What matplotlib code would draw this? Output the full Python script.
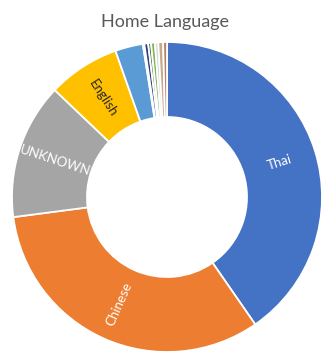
import matplotlib
matplotlib.use('Agg')
import numpy as np
import matplotlib.pyplot as plt

# share of students by home language (percent), clockwise from 12 o'clock
languages = ['Thai', 'Chinese', 'UNKNOWN', 'English', '', '', '', '', '', '', '', '']
shares = [40.4, 32.6, 14.2, 7.5, 2.9, 0.15, 0.4, 0.3, 0.4, 0.35, 0.5, 0.4]
colors = ['#4472C4', '#ED7D31', '#A5A5A5', '#FFC000', '#5B9BD5', '#EDF4E8',
          '#2B3F7E', '#4E6B3A', '#7DB356', '#D6D6D6', '#C9A98A', '#B5806E']
label_colors = ['white', 'white', 'white', '#262626']

plt.rcParams['font.family'] = ['Lato', 'DejaVu Sans']

fig = plt.figure(figsize=(3.22, 3.56), dpi=100)
ax = fig.add_axes([0, 0, 1, 1])

cx, cy = 167, 159
outer = 155
ring = 75
wedges, texts = ax.pie(shares, labels=languages, colors=colors, startangle=90,
                       counterclock=False, center=(cx, cy), radius=outer,
                       labeldistance=(outer - ring / 2) / outer,
                       wedgeprops=dict(width=ring, edgecolor='white', linewidth=1.3),
                       textprops=dict(fontsize=9.5), frame=True)
ax.set_xlim(0, 322)
ax.set_ylim(0, 356)
ax.set_aspect('equal')
ax.axis('off')

# turn each label along its radius so it reads left to right
for t, c in zip(texts, label_colors + ['white'] * len(texts)):
    x, y = t.get_position()
    ang = np.degrees(np.arctan2(y - cy, x - cx))
    if x < cx:
        ang += 180
    t.set_rotation(ang)
    t.set_color(c)
    t.set_ha('center')
    t.set_va('center')
    t.set_rotation_mode('anchor')

fig.text(0.512, 0.938, 'Home Language', ha='center', va='center',
         fontsize=13, color='#595959')

fig.savefig('out.png', dpi=100)
